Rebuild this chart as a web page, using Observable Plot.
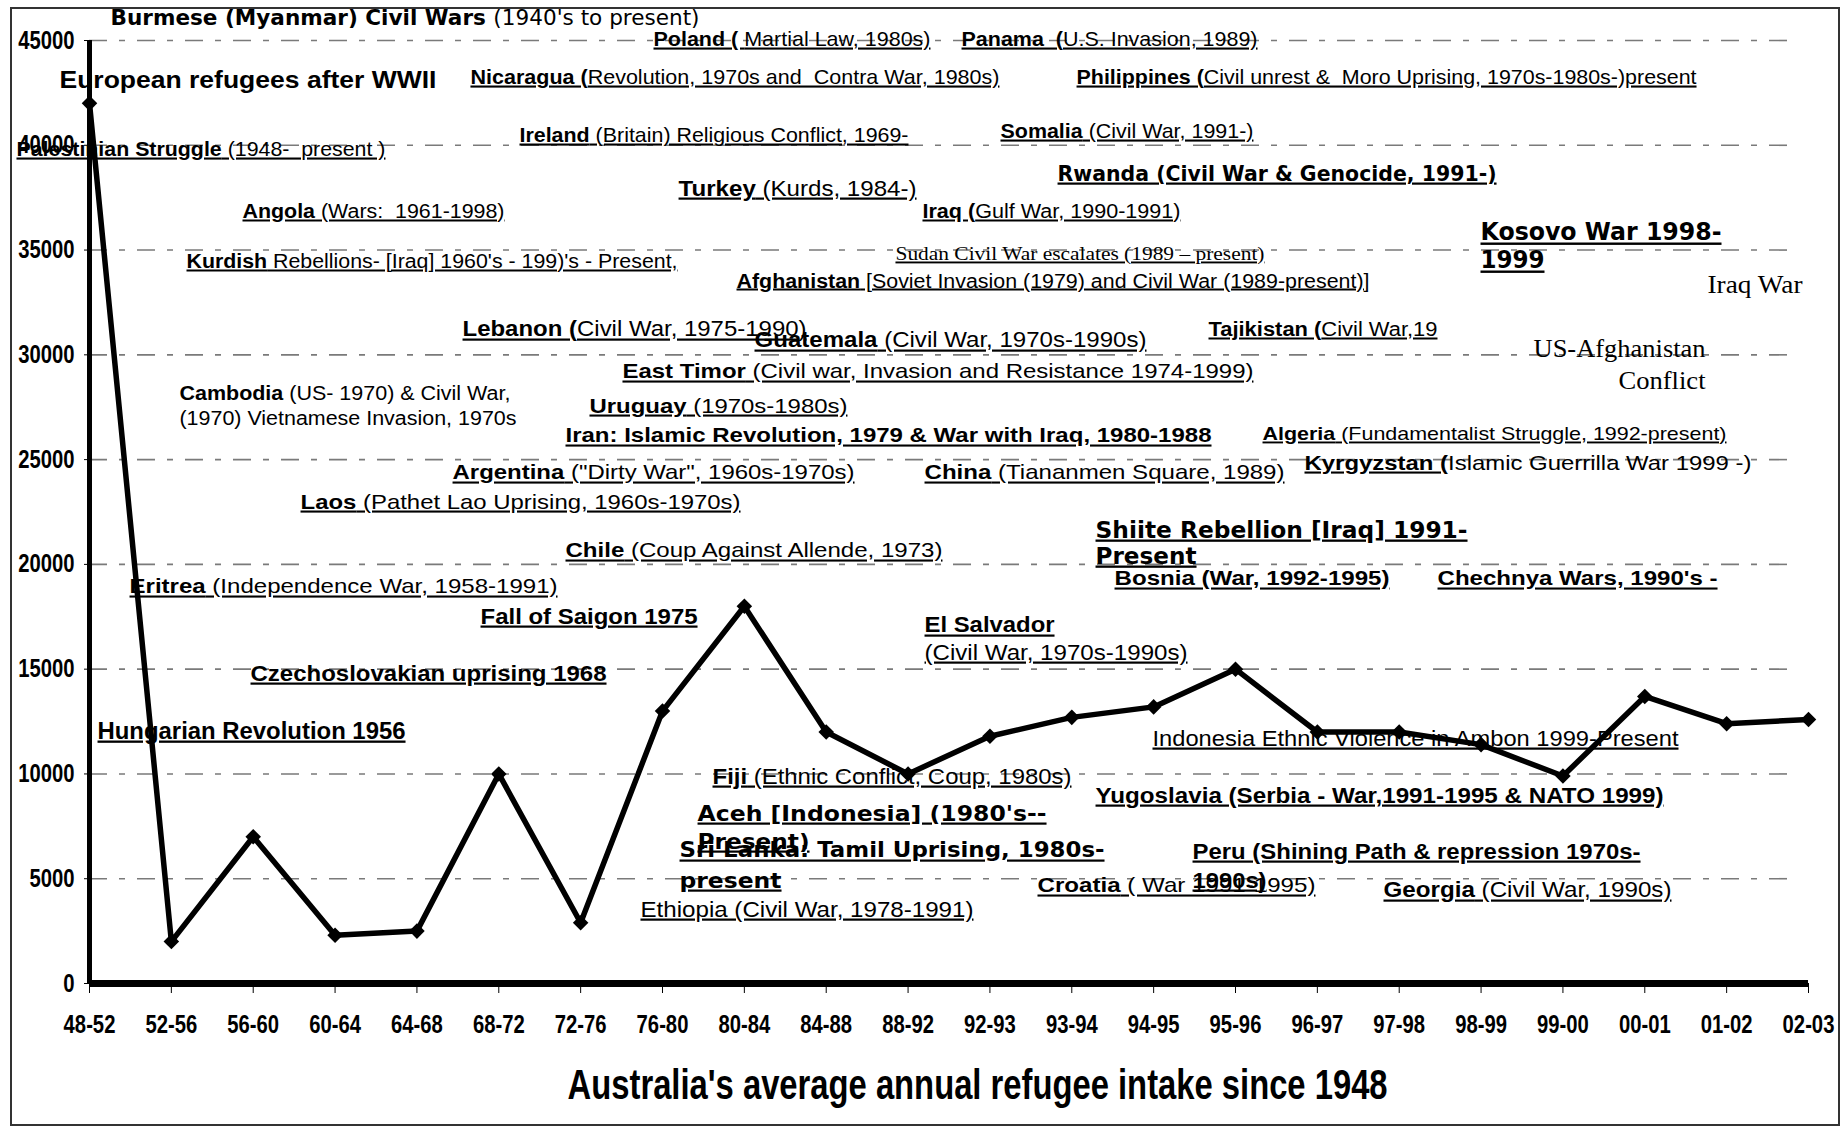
<!DOCTYPE html>
<html><head><meta charset="utf-8">
<script src="https://cdn.jsdelivr.net/npm/d3@7"></script>
<script src="https://cdn.jsdelivr.net/npm/@observablehq/plot@0.6"></script>
<style>
body{margin:0;background:#fff;}
#wrap{position:relative;width:1843px;height:1129px;overflow:hidden;background:#fff;}
#frame{position:absolute;left:10px;top:7px;width:1830px;height:1119px;border:2px solid #333;box-sizing:border-box;}
#chart{position:absolute;left:0;top:0;}
#title{position:absolute;left:0;top:1064px;width:1956px;text-align:center;white-space:nowrap;}
#title span{display:inline-block;font:bold 42px "Liberation Sans",Arial,sans-serif;line-height:42px;color:#000;transform-origin:50% 50%;}
</style></head>
<body>
<div id="wrap"><div id="frame"></div><div id="chart"></div>
<div id="title"><span>Australia's average annual refugee intake since 1948</span></div></div>
<script>
// ---- data ----
const periods = ["48-52","52-56","56-60","60-64","64-68","68-72","72-76","76-80","80-84","84-88","88-92",
  "92-93","93-94","94-95","95-96","96-97","97-98","98-99","99-00","00-01","01-02","02-03"];
const intake = [42000, 2000, 7000, 2300, 2500, 10000, 2900, 13000, 18000, 12000, 10000,
  11800, 12700, 13200, 15000, 12000, 12000, 11400, 9900, 13700, 12400, 12600];
const yTicks = [0, 5000, 10000, 15000, 20000, 25000, 30000, 35000, 40000, 45000];
const gridValues = [5000, 10000, 15000, 20000, 25000, 30000, 35000, 40000, 45000];

// annotations: [x (category position), y (value), bold part, plain part, font, size, width, underline]
const notes = [
  [0.257, 45760, "Burmese (Myanmar) Civil Wars ", "(1940's to present)", "M", 21, 589, "none"],
  [6.890, 44761, "Poland ( ", "Martial Law, 1980s)", "A", 21, 277, "all"],
  [10.653, 44761, "Panama  (", "U.S. Invasion, 1989)", "A", 21, 296, "all"],
  [-0.367, 42757, "European refugees after WWII", "", "A", 24, 377, "none"],
  [4.654, 42948, "Nicaragua (", "Revolution, 1970s and  Contra War, 1980s)", "A", 21, 529, "all"],
  [12.058, 42948, "Philippines (", "Civil unrest &  Moro Uprising, 1970s-1980s-)present", "A", 21, 620, "all"],
  [-0.892, 39512, "Palestinian Struggle", " (1948-  present )", "A", 21, 369, "all"],
  [5.253, 40180, "Ireland", " (Britain) Religious Conflict, 1969-", "A", 21, 389, "all"],
  [11.129, 40371, "Somalia", " (Civil War, 1991-)", "A", 21, 253, "all"],
  [11.826, 38319, "Rwanda (Civil War & Genocide, 1991-)", "", "M", 22, 439, "all"],
  [7.196, 37603, "Turkey", " (Kurds, 1984-)", "A", 22, 238, "all"],
  [10.176, 36506, "Iraq (", "Gulf War, 1990-1991)", "A", 20, 258, "all"],
  [1.869, 36506, "Angola", " (Wars:  1961-1998)", "A", 20, 262, "all"],
  [1.185, 34120, "Kurdish", " Rebellions- [Iraq] 1960's - 199)'s - Present,", "A", 20, 491, "all"],
  [9.846, 34502, "", "Sudan Civil War escalates (1989 – present)", "T", 19, 369, "all"],
  [7.904, 33213, "Afghanistan", " [Soviet Invasion (1979) and Civil War (1989-present)]", "A", 20, 633, "all"],
  [16.993, 35456, "Kosovo War 1998-", "", "M", 24, 241, "all"],
  [16.993, 34120, "1999", "", "M", 24, 64, "all"],
  [19.766, 32927, "", "Iraq War", "T", 26, 95, "none"],
  [4.557, 30875, "Lebanon (", "Civil War, 1975-1990)", "A", 22, 344, "all"],
  [8.124, 30350, "Guatemala", " (Civil War, 1970s-1990s)", "A", 22, 392, "all"],
  [13.670, 30875, "Tajikistan (", "Civil War,19", "A", 20, 229, "all"],
  [17.641, 29873, "", "US-Afghanistan", "T", 26, 172, "none"],
  [18.679, 28393, "", "Conflict", "T", 26, 87, "none"],
  [1.099, 27868, "Cambodia", " (US- 1970) & Civil War,", "A", 20, 331, "none"],
  [1.099, 26675, "", "(1970) Vietnamese Invasion, 1970s", "A", 20, 337, "none"],
  [6.511, 28871, "East Timor", " (Civil war, Invasion and Resistance 1974-1999)", "A", 21, 631, "all"],
  [6.108, 27248, "Uruguay", " (1970s-1980s)", "A", 21, 258, "all"],
  [5.815, 25817, "Iran: Islamic Revolution, 1979 & War with Iraq, 1980-1988", "", "A", 21, 646, "all"],
  [14.330, 25912, "Algeria", " (Fundamentalist Struggle, 1992-present)", "A", 19, 464, "all"],
  [4.435, 24051, "Argentina", " (\"Dirty War\", 1960s-1970s)", "A", 21, 402, "all"],
  [10.201, 24051, "China", " (Tiananmen Square, 1989)", "A", 21, 360, "all"],
  [14.843, 24528, "Kyrgyzstan (", "Islamic Guerrilla War 1999 -)", "A", 21, 447, "b"],
  [2.578, 22667, "Laos", " (Pathet Lao Uprising, 1960s-1970s)", "A", 21, 440, "all"],
  [12.290, 21283, "Shiite Rebellion [Iraq] 1991-", "", "M", 23, 372, "all"],
  [12.290, 20042, "Present", "", "M", 23, 101, "all"],
  [5.815, 20329, "Chile", " (Coup Against Allende, 1973)", "A", 21, 377, "all"],
  [12.522, 18993, "Bosnia (War, 1992-1995)", "", "A", 21, 275, "all"],
  [16.468, 18993, "Chechnya Wars, 1990's -", "", "A", 21, 280, "all"],
  [0.489, 18611, "Eritrea", " (Independence War, 1958-1991)", "A", 21, 428, "all"],
  [4.777, 17179, "Fall of Saigon 1975", "", "A", 22, 217, "all"],
  [10.201, 16750, "El Salvador", "", "A", 22, 130, "all"],
  [10.201, 15461, "", "(Civil War, 1970s-1990s)", "A", 22, 263, "all"],
  [1.967, 14459, "Czechoslovakian uprising 1968", "", "A", 22, 356, "all"],
  [0.098, 11691, "Hungarian Revolution 1956", "", "A", 23, 308, "all"],
  [12.986, 11357, "", "Indonesia Ethnic Violence in Ambon 1999-Present", "A", 22, 526, "all"],
  [7.611, 9544, "Fiji", " (Ethnic Conflict, Coup, 1980s)", "A", 22, 359, "all"],
  [12.290, 8637, "Yugoslavia (Serbia - War,1991-1995 & NATO 1999)", "", "A", 22, 568, "all"],
  [7.428, 7778, "Aceh [Indonesia] (1980's--", "", "M", 22, 349, "all"],
  [7.428, 6442, "Present)", "", "M", 22, 112, "all"],
  [7.208, 6013, "Sri Lanka: Tamil Uprising, 1980s-", "", "M", 22, 425, "all"],
  [7.208, 4581, "present", "", "M", 22, 102, "all"],
  [13.475, 5965, "Peru (Shining Path & repression 1970s-", "", "A", 22, 448, "all"],
  [13.475, 4581, "1990s)", "", "A", 22, 74, "all"],
  [11.581, 4343, "Croatia", " ( War 1991-1995)", "A", 21, 278, "all"],
  [15.808, 4104, "Georgia", " (Civil War, 1990s)", "A", 22, 288, "all"],
  [6.731, 3197, "", "Ethiopia (Civil War, 1978-1991)", "A", 22, 333, "all"]
].map(([x, y, b, t, f, s, w, u]) => ({x, y, b, t, f, s, w, u}));

const rows = periods.map((p, i) => ({i, p, v: intake[i]}));

const svg = Plot.plot({
  width: 1843, height: 1050,
  marginLeft: 89, marginRight: 35, marginTop: 40, marginBottom: 67,
  style: {fontFamily: '"Liberation Sans", Arial, sans-serif', fontSize: "25px", fontWeight: "bold",
    color: "black", background: "transparent", overflow: "visible"},
  x: {domain: [0, periods.length - 1], ticks: d3.range(periods.length), tickFormat: i => periods[i],
      tickSize: 10, tickPadding: 22, label: null},
  y: {domain: [0, 45000], ticks: yTicks, tickFormat: d => String(d), tickSize: 5, tickPadding: 10, label: null},
  marks: [
    Plot.ruleY(gridValues, {x1: 0, x2: 20.85, stroke: "#7a7a7a", strokeWidth: 1.6, strokeDasharray: "18,12,6,12"}),
    Plot.ruleX([0], {y1: 0, y2: 45000, stroke: "black", strokeWidth: 5}),
    Plot.ruleY([0], {x1: 0, x2: periods.length - 1, stroke: "black", strokeWidth: 7}),
    Plot.line(rows, {x: "i", y: "v", stroke: "black", strokeWidth: 5.5, strokeLinejoin: "miter"}),
    Plot.dot(rows, {x: "i", y: "v", symbol: "diamond2", r: 7, fill: "black", stroke: "none"}),
    Plot.text(notes, {x: "x", y: "y", text: d => d.b + d.t, textAnchor: "start", lineAnchor: "bottom", fill: "black"})
  ]
});
document.getElementById("chart").appendChild(svg);

const fonts = {
  A: '"Liberation Sans", Arial, sans-serif',
  M: '"DejaVu Sans", Verdana, sans-serif',
  T: '"Liberation Serif", "Times New Roman", serif'
};
const NS = "http://www.w3.org/2000/svg";
const noteGroup = svg.querySelector('g[aria-label="text"]');
noteGroup.querySelectorAll("text").forEach((el, k) => {
  const n = notes[k];
  while (el.firstChild) el.removeChild(el.firstChild);
  el.removeAttribute("y");
  el.style.fontFamily = fonts[n.f];
  el.style.fontSize = n.s + "px";
  el.style.fontWeight = "normal";
  if (n.b) {
    const s = document.createElementNS(NS, "tspan");
    s.textContent = n.b; s.style.fontWeight = "bold";
    if (n.u === "b") s.style.textDecoration = "underline";
    el.appendChild(s);
  }
  if (n.t) {
    const s = document.createElementNS(NS, "tspan");
    s.textContent = n.t; s.style.fontWeight = "normal";
    el.appendChild(s);
  }
  if (n.u === "all") el.style.textDecoration = "underline";
  el.setAttribute("textLength", n.w);
  el.setAttribute("lengthAdjust", "spacingAndGlyphs");
});
// condensed axis labels
svg.querySelectorAll("text").forEach(t => {
  if (noteGroup.contains(t)) return;
  const L = t.getComputedTextLength();
  t.setAttribute("textLength", (L * 0.81).toFixed(1));
  t.setAttribute("lengthAdjust", "spacingAndGlyphs");
});
// condensed title
const ts = document.querySelector("#title span");
const tw = ts.getBoundingClientRect().width;
ts.style.transform = `scaleX(${820 / tw})`;
</script>
</body></html>
